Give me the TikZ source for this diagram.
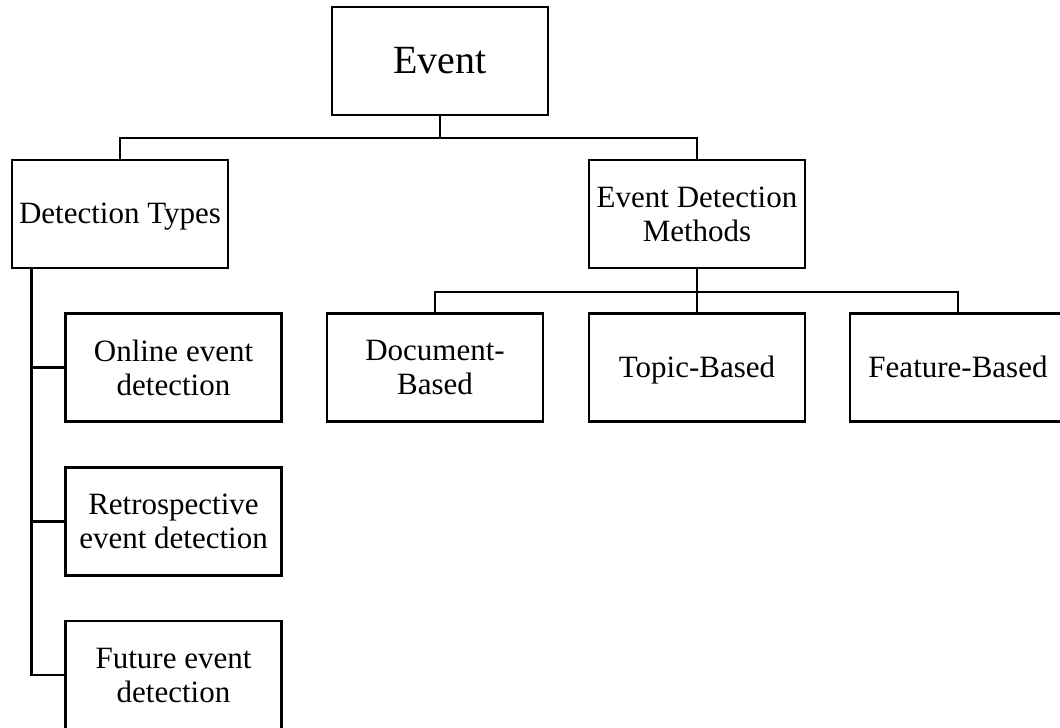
\documentclass[tikz,border=0pt]{standalone}
\usepackage{fontspec}
\setmainfont{Liberation Serif}
\begin{document}
\begin{tikzpicture}[x=1pt, y=-1pt, line width=2.8pt,
    box/.style={draw, minimum width=216pt, minimum height=108pt, inner sep=0pt, align=center, font=\fontsize{31}{34}\selectfont},
    oneline/.style={text height=22pt, text depth=3pt}]
\useasboundingbox (0,0) rectangle (1060,728);
\node[box, font=\fontsize{40}{44}\selectfont] (event) at (440,61) {Event};
\node[box, oneline] (dtypes) at (120,214) {Detection Types};
\node[box] (edm) at (697,214) {Event Detection\\Methods};
\node[box] (online) at (173.5,367.5) {Online event\\detection};
\node[box] (retro) at (173.5,521.5) {Retrospective\\event detection};
\node[box] (future) at (173.5,675) {Future event\\detection};
\node[box] (doc) at (435,367.5) {Document-\\Based};
\node[box, oneline] (topic) at (697,367.5) {Topic-Based};
\node[box, oneline] (feature) at (958,367.5) {Feature-Based};
\coordinate (bus) at (440,138);
\coordinate (bus2) at (697,292);
\draw (event.south) -- (bus);
\draw (dtypes.north) |- (bus) -| (edm.north);
\draw (edm.south) -- (bus2) -- (topic.north);
\draw (doc.north) |- (bus2) -| (feature.north);
\draw ([xshift=21pt]dtypes.south west) coordinate (spine) |- (future.west);
\foreach \n in {online,retro}
{
    \draw (spine |- \n.west) -- (\n.west);
}
\end{tikzpicture}
\end{document}
